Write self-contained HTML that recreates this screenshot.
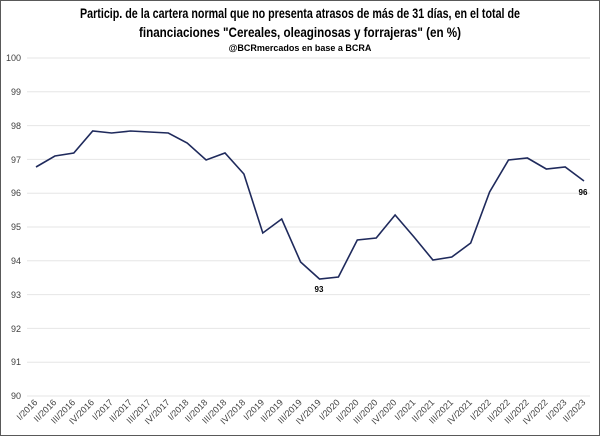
<!DOCTYPE html><html><head><style>body{margin:0;background:#fff}svg{display:block}</style></head><body>
<svg width="600" height="436" xmlns="http://www.w3.org/2000/svg" font-family="Liberation Sans, sans-serif">
<rect x="0.5" y="0.5" width="599" height="435" fill="#fff" stroke="#595959"/>
<text x="300" y="18" text-anchor="middle" font-size="14" font-weight="bold" textLength="440" lengthAdjust="spacingAndGlyphs">Particip. de la cartera normal que no presenta atrasos de más de 31 días, en el total de</text>
<text x="300" y="37" text-anchor="middle" font-size="14" font-weight="bold" textLength="322" lengthAdjust="spacingAndGlyphs">financiaciones "Cereales, oleaginosas y forrajeras" (en %)</text>
<text x="300" y="51" text-anchor="middle" font-size="9" font-weight="bold">@BCRmercados en base a BCRA</text>
<g stroke="#e6e6e6" stroke-width="1">
<line x1="27" x2="590" y1="58" y2="58"/><line x1="27" x2="590" y1="91.8" y2="91.8"/><line x1="27" x2="590" y1="125.6" y2="125.6"/><line x1="27" x2="590" y1="159.4" y2="159.4"/><line x1="27" x2="590" y1="193.2" y2="193.2"/><line x1="27" x2="590" y1="227" y2="227"/><line x1="27" x2="590" y1="260.8" y2="260.8"/><line x1="27" x2="590" y1="294.6" y2="294.6"/><line x1="27" x2="590" y1="328.4" y2="328.4"/><line x1="27" x2="590" y1="362.2" y2="362.2"/><line x1="27" x2="590" y1="396" y2="396"/>
</g>
<g font-size="9" fill="#404040" text-anchor="end">
<text x="21" y="61">100</text><text x="21" y="95">99</text><text x="21" y="129">98</text><text x="21" y="163">97</text><text x="21" y="196">96</text><text x="21" y="230">95</text><text x="21" y="264">94</text><text x="21" y="298">93</text><text x="21" y="332">92</text><text x="21" y="365">91</text><text x="21" y="399">90</text>
</g>
<polyline fill="none" stroke="#1f2a5c" stroke-width="1.6" points="36,167 54.9,156 73.8,153 92.7,131 111.6,133 130.5,131 149.4,132 168.3,133 187.2,143 206.1,160 225,153 243.9,174 262.8,233 281.7,219 300.6,262 319.5,279 338.4,277 357.3,240 376.2,238 395.1,215 414,237 432.9,260 451.8,257 470.7,243 489.6,192 508.5,160 527.4,158 546.3,169 565.2,167 584,181"/>
<text x="95" y="292" font-size="8" font-weight="bold" text-anchor="middle" transform="translate(224,0)">93</text>
<text x="583" y="195" font-size="8" font-weight="bold" text-anchor="middle">96</text>
<g font-size="9" fill="#404040" text-anchor="end">
<text transform="translate(38,403) rotate(-45)">I/2016</text><text transform="translate(56.9,403) rotate(-45)">II/2016</text><text transform="translate(75.8,403) rotate(-45)">III/2016</text><text transform="translate(94.7,403) rotate(-45)">IV/2016</text><text transform="translate(113.6,403) rotate(-45)">I/2017</text><text transform="translate(132.5,403) rotate(-45)">II/2017</text><text transform="translate(151.4,403) rotate(-45)">III/2017</text><text transform="translate(170.3,403) rotate(-45)">IV/2017</text><text transform="translate(189.2,403) rotate(-45)">I/2018</text><text transform="translate(208.1,403) rotate(-45)">II/2018</text><text transform="translate(227,403) rotate(-45)">III/2018</text><text transform="translate(245.9,403) rotate(-45)">IV/2018</text><text transform="translate(264.8,403) rotate(-45)">I/2019</text><text transform="translate(283.7,403) rotate(-45)">II/2019</text><text transform="translate(302.6,403) rotate(-45)">III/2019</text><text transform="translate(321.5,403) rotate(-45)">IV/2019</text><text transform="translate(340.4,403) rotate(-45)">I/2020</text><text transform="translate(359.3,403) rotate(-45)">II/2020</text><text transform="translate(378.2,403) rotate(-45)">III/2020</text><text transform="translate(397.1,403) rotate(-45)">IV/2020</text><text transform="translate(416,403) rotate(-45)">I/2021</text><text transform="translate(434.9,403) rotate(-45)">II/2021</text><text transform="translate(453.8,403) rotate(-45)">III/2021</text><text transform="translate(472.7,403) rotate(-45)">IV/2021</text><text transform="translate(491.6,403) rotate(-45)">I/2022</text><text transform="translate(510.5,403) rotate(-45)">II/2022</text><text transform="translate(529.4,403) rotate(-45)">III/2022</text><text transform="translate(548.3,403) rotate(-45)">IV/2022</text><text transform="translate(567.2,403) rotate(-45)">I/2023</text><text transform="translate(586,403) rotate(-45)">II/2023</text>
</g>
</svg></body></html>
